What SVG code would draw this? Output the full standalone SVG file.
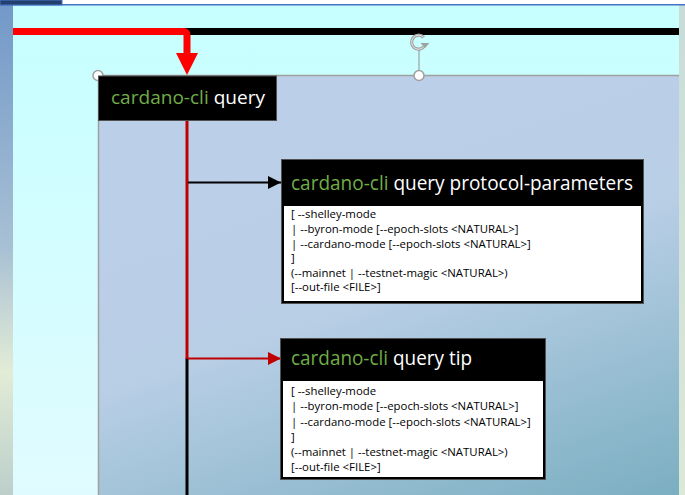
<svg xmlns="http://www.w3.org/2000/svg" width="685" height="495" viewBox="0 0 685 495">
<defs>
<linearGradient id="leftStrip" x1="0" y1="0" x2="0" y2="1">
<stop offset="0" stop-color="#7198c8"/>
<stop offset="0.5" stop-color="#a8c0d4"/>
<stop offset="0.75" stop-color="#e2ecd6"/>
<stop offset="1" stop-color="#bccfcb"/>
</linearGradient>
<linearGradient id="rightStrip" x1="0" y1="0" x2="0" y2="1">
<stop offset="0" stop-color="#c8dcd8"/>
<stop offset="1" stop-color="#dce8d8"/>
</linearGradient>
<linearGradient id="canvas" x1="0" y1="0" x2="0" y2="1">
<stop offset="0" stop-color="#c6ffff"/>
<stop offset="1" stop-color="#e0fbff"/>
</linearGradient>
<linearGradient id="panel" x1="0.3" y1="0.2" x2="0.75" y2="1.15">
<stop offset="0" stop-color="#bbcfe8"/>
<stop offset="0.35" stop-color="#b9cfe6"/>
<stop offset="1" stop-color="#78adbf"/>
</linearGradient>
<marker id="arrBlack" viewBox="0 0 10 10" refX="10" refY="5" markerWidth="6.5" markerHeight="6.5" orient="auto" markerUnits="strokeWidth">
<path d="M0,0 L10,5 L0,10 Z" fill="#000"/>
</marker>
<marker id="arrRed" viewBox="0 0 10 10" refX="10" refY="5" markerWidth="6.5" markerHeight="6.5" orient="auto" markerUnits="strokeWidth">
<path d="M0,0 L10,5 L0,10 Z" fill="#c00000"/>
</marker>
</defs>
<style>
.head{fill:#000;stroke:#505050;stroke-width:1}
.body{fill:#fff;stroke:#000;stroke-width:1}
.ht{font-family:"Open Sans","Noto Sans",sans-serif;fill:#fff}
.g{fill:#70ad47}
.bt{font-family:"Open Sans","Noto Sans",sans-serif;font-size:11.4px;fill:#000}
.handle{fill:#fff;stroke:#a0a0a0;stroke-width:1.5}
</style>

<!-- background -->
<rect x="0" y="0" width="685" height="495" fill="url(#canvas)"/>
<rect x="0" y="0" width="13" height="495" fill="url(#leftStrip)"/>
<rect x="679" y="0" width="6" height="495" fill="url(#rightStrip)"/>
<rect x="0" y="0" width="685" height="5" fill="#fff"/>
<rect x="0" y="4" width="685" height="1.5" fill="#4a72c4"/>
<rect x="0" y="0" width="62" height="5" fill="#22406e" stroke="#4a72c4" stroke-width="1"/>

<!-- panel -->
<g id="panel">
<rect x="98" y="75.5" width="581" height="420" fill="url(#panel)"/>
<path d="M98.5,495 V75.5 H679" fill="none" stroke="#a0a0a0" stroke-width="1.5"/>
</g>

<!-- connectors -->
<g id="connectors">
<line x1="13" y1="31.5" x2="679" y2="31.5" stroke="#000" stroke-width="7"/>
<path d="M13,31.5 H183 Q187,31.5 187,35.5 V55" fill="none" stroke="#ff0000" stroke-width="7"/>
<path d="M176,53 H198 L187,75 Z" fill="#ff0000"/>
<line x1="187" y1="358" x2="187" y2="495" stroke="#000" stroke-width="3"/>
<line x1="187" y1="120" x2="187" y2="359" stroke="#c00000" stroke-width="3"/>
<line x1="188" y1="182.5" x2="281" y2="182.5" stroke="#000" stroke-width="2" marker-end="url(#arrBlack)"/>
<line x1="188" y1="358.5" x2="281" y2="358.5" stroke="#c00000" stroke-width="2" marker-end="url(#arrRed)"/>
</g>

<!-- selection handles -->
<g id="handles">
<line x1="419" y1="50" x2="419" y2="75" stroke="#909090" stroke-width="1"/>
<path d="M423.8,37.5 A7,7 0 1 0 424.5,46" fill="none" stroke="#a0a0a0" stroke-width="3.2"/>
<path d="M423.8,37.5 A7,7 0 1 0 424.5,46" fill="none" stroke="#e8e8e8" stroke-width="1"/>
<path d="M420.5,43 L429.5,43 L425,48 Z" fill="#a0a0a0"/>
<circle cx="98" cy="75.5" r="5" class="handle"/>
<circle cx="419" cy="75.5" r="5" class="handle"/>
</g>

<g id="node-query">
<rect x="98.5" y="76" width="178" height="44.5" class="head"/>
<text x="111" y="104" class="ht" font-size="18" textLength="154" lengthAdjust="spacingAndGlyphs"><tspan class="g">cardano-cli</tspan> query</text>
</g>

<g id="node-protocol-parameters">
<rect x="281.5" y="159.5" width="362" height="144" class="head"/>
<rect x="283.5" y="205.5" width="358" height="96" class="body"/>
<text x="291" y="190" class="ht" font-size="20" textLength="342" lengthAdjust="spacingAndGlyphs"><tspan class="g">cardano-cli</tspan> query protocol-parameters</text>
<text class="bt" x="291">
<tspan x="291" y="218">[ --shelley-mode</tspan>
<tspan x="291" y="233">| --byron-mode [--epoch-slots &lt;NATURAL&gt;]</tspan>
<tspan x="291" y="247.5">| --cardano-mode [--epoch-slots &lt;NATURAL&gt;]</tspan>
<tspan x="291" y="262">]</tspan>
<tspan x="291" y="276.5">(--mainnet | --testnet-magic &lt;NATURAL&gt;)</tspan>
<tspan x="291" y="291">[--out-file &lt;FILE&gt;]</tspan>
</text>
</g>

<g id="node-tip">
<rect x="280.5" y="338.5" width="265" height="141" class="head"/>
<rect x="282.5" y="380.5" width="261" height="97" class="body"/>
<text x="291" y="365" class="ht" font-size="20" textLength="181" lengthAdjust="spacingAndGlyphs"><tspan class="g">cardano-cli</tspan> query tip</text>
<text class="bt" x="291">
<tspan x="291" y="394.5">[ --shelley-mode</tspan>
<tspan x="291" y="410">| --byron-mode [--epoch-slots &lt;NATURAL&gt;]</tspan>
<tspan x="291" y="425.5">| --cardano-mode [--epoch-slots &lt;NATURAL&gt;]</tspan>
<tspan x="291" y="440.5">]</tspan>
<tspan x="291" y="455.5">(--mainnet | --testnet-magic &lt;NATURAL&gt;)</tspan>
<tspan x="291" y="470.5">[--out-file &lt;FILE&gt;]</tspan>
</text>
</g>
</svg>
